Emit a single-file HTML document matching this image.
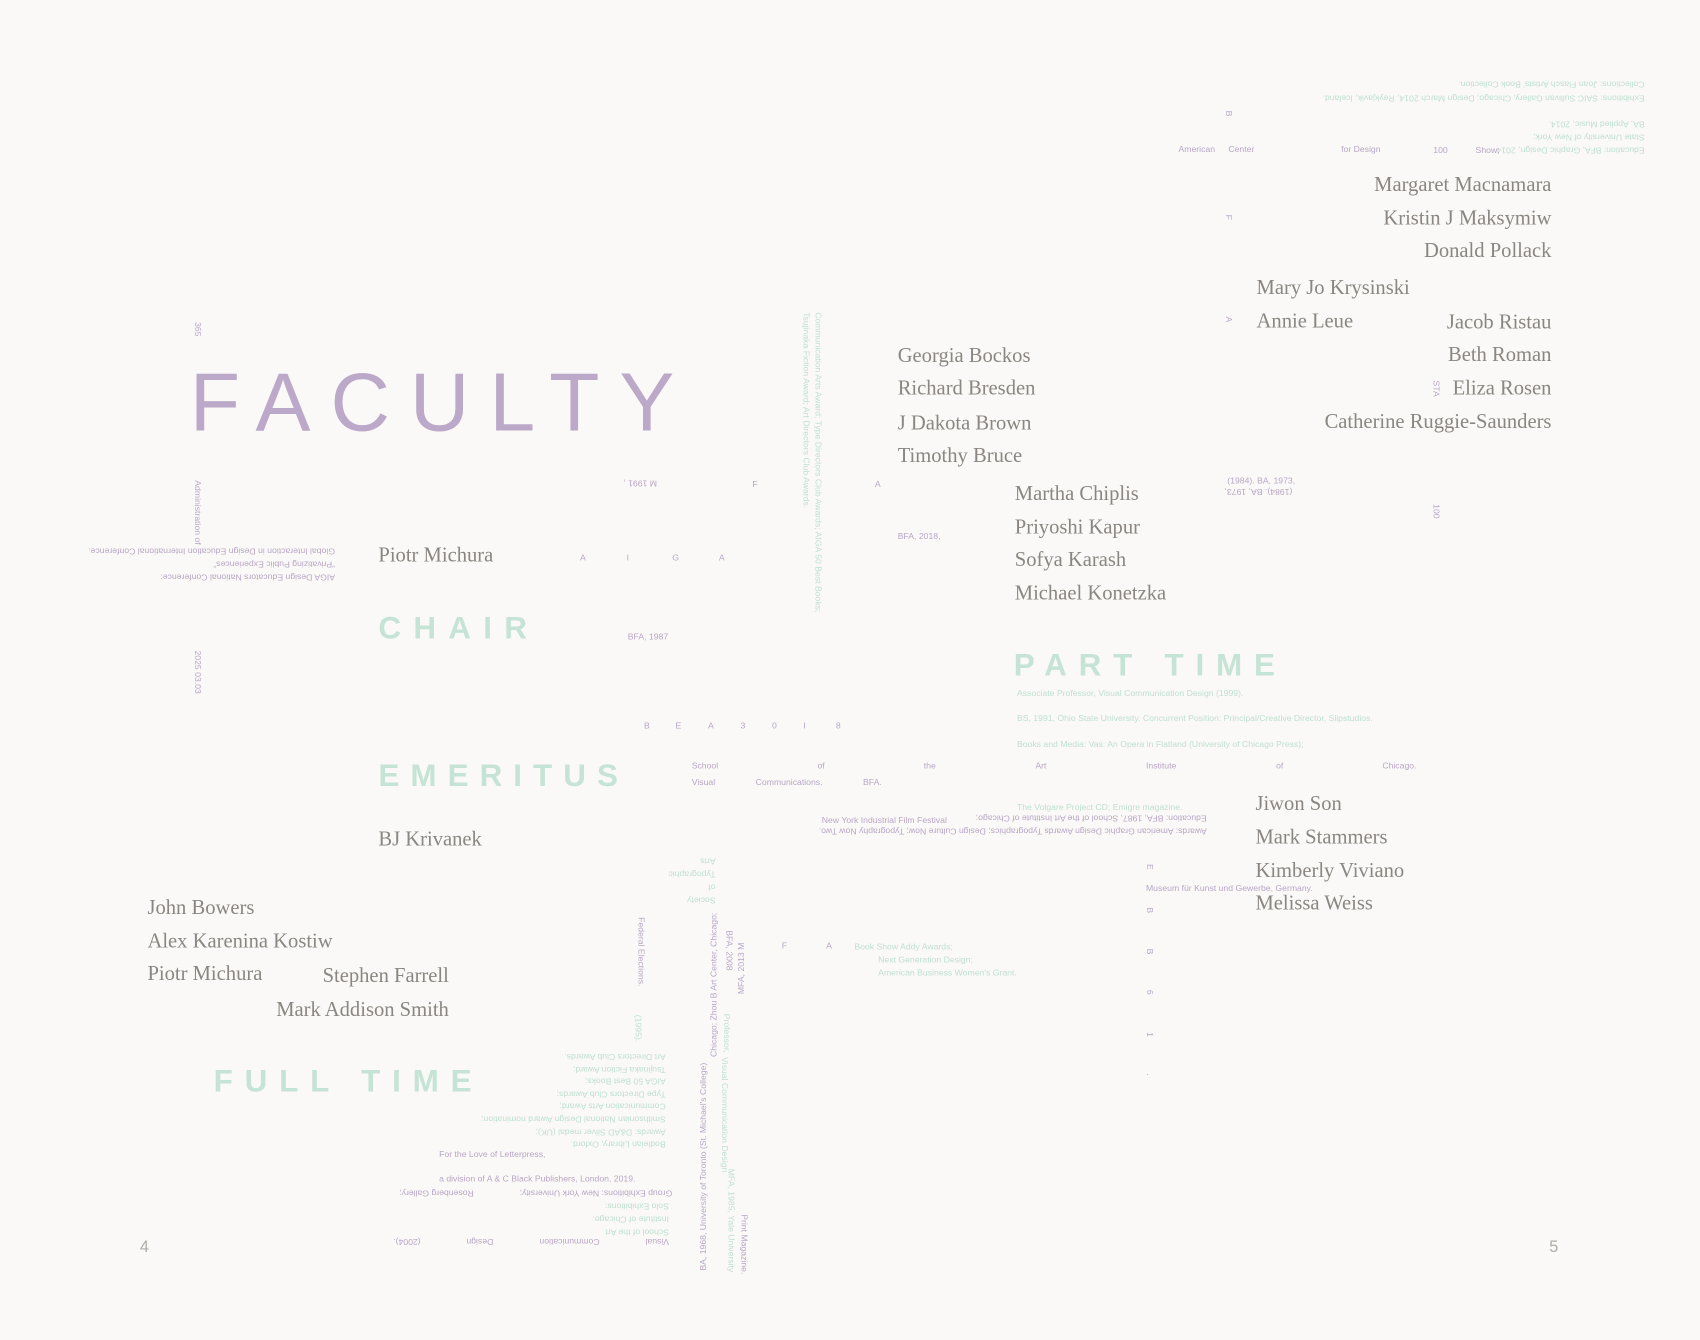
<!DOCTYPE html>
<html><head><meta charset="utf-8"><style>
html,body{margin:0;padding:0;background:#faf9f7;}
svg{display:block}
.n{font-family:"Liberation Serif",serif;font-size:19px;fill:#8b8681}
.h{font-family:"Liberation Sans",sans-serif;font-weight:bold;fill:#c6e4d6}
.p{font-family:"Liberation Sans",sans-serif;font-size:8px;fill:#b8a5c6}
.g{font-family:"Liberation Sans",sans-serif;font-size:8px;fill:#bfe0d0}
</style></head><body>
<svg width="1700" height="1340" viewBox="0 0 1568 1236" xmlns="http://www.w3.org/2000/svg">
<rect x="0" y="0" width="1568" height="1236" fill="#faf9f7"/>
<text x="175" y="397" font-family="Liberation Sans,sans-serif" font-size="76" fill="#bca9c9" textLength="447" lengthAdjust="spacing">FACULTY</text>

<text class="h" x="349" y="589" font-size="29" textLength="137" lengthAdjust="spacing">CHAIR</text>
<text class="h" x="349" y="725" font-size="29" textLength="221" lengthAdjust="spacing">EMERITUS</text>
<text class="h" x="197" y="1007" font-size="29" textLength="238" lengthAdjust="spacing">FULL TIME</text>
<text class="h" x="935" y="623" font-size="29" textLength="241" lengthAdjust="spacing">PART TIME</text>

<g text-anchor="end">
<text class="n" x="1431" y="176">Margaret Macnamara</text>
<text class="n" x="1431" y="207">Kristin J Maksymiw</text>
<text class="n" x="1431" y="237">Donald Pollack</text>
<text class="n" x="1431" y="303">Jacob Ristau</text>
<text class="n" x="1431" y="333">Beth Roman</text>
<text class="n" x="1431" y="364">Eliza Rosen</text>
<text class="n" x="1431" y="395">Catherine Ruggie-Saunders</text>
<text class="n" x="414" y="906">Stephen Farrell</text>
<text class="n" x="414" y="937">Mark Addison Smith</text>
</g>
<g>
<text class="n" x="1159" y="271">Mary Jo Krysinski</text>
<text class="n" x="1159" y="302">Annie Leue</text>
<text class="n" x="828" y="334">Georgia Bockos</text>
<text class="n" x="828" y="364">Richard Bresden</text>
<text class="n" x="828" y="396">J Dakota Brown</text>
<text class="n" x="828" y="426">Timothy Bruce</text>
<text class="n" x="936" y="461">Martha Chiplis</text>
<text class="n" x="936" y="492">Priyoshi Kapur</text>
<text class="n" x="936" y="522">Sofya Karash</text>
<text class="n" x="936" y="553">Michael Konetzka</text>
<text class="n" x="349" y="518">Piotr Michura</text>
<text class="n" x="349" y="780">BJ Krivanek</text>
<text class="n" x="136" y="843">John Bowers</text>
<text class="n" x="136" y="874">Alex Karenina Kostiw</text>
<text class="n" x="136" y="904">Piotr Michura</text>
<text class="n" x="1158" y="747">Jiwon Son</text>
<text class="n" x="1158" y="778">Mark Stammers</text>
<text class="n" x="1158" y="809">Kimberly Viviano</text>
<text class="n" x="1158" y="839">Melissa Weiss</text>
</g>

<text x="129" y="1155" font-family="Liberation Sans,sans-serif" font-size="15" fill="#b0aca8">4</text>
<text x="1429" y="1155" font-family="Liberation Sans,sans-serif" font-size="15" fill="#b0aca8">5</text>

<g>
<text class="g" transform="rotate(180 1517 75)" x="1517" y="75">Collections: Joan Flasch Artists' Book Collection.</text>
<text class="g" transform="rotate(180 1517 88)" x="1517" y="88">Exhibitions: SAIC Sullivan Gallery, Chicago; Design March 2014, Reykjavik, Iceland.</text>
<text class="g" transform="rotate(180 1517 112)" x="1517" y="112">BA, Applied Music, 2014.</text>
<text class="g" transform="rotate(180 1517 124)" x="1517" y="124">State University of New York;</text>
<text class="g" transform="rotate(180 1517 136)" x="1517" y="136">Education: BFA, Graphic Design, 2014</text>
<text class="p" x="1087" y="140">American</text>
<text class="p" x="1133" y="140">Center</text>
<text class="p" x="1237" y="140">for Design</text>
<text class="p" x="1322" y="141">100</text>
<text class="p" x="1361" y="141">Show;</text>
<text class="p" transform="rotate(90 1131 102)" x="1131" y="102">B</text>
<text class="p" transform="rotate(90 1131 198)" x="1131" y="198">F</text>
<text class="p" transform="rotate(90 1131 292)" x="1131" y="292">A</text>
<text class="p" transform="rotate(90 1322 351)" x="1322" y="351">STA</text>
<text class="p" transform="rotate(90 1322 465)" x="1322" y="465">100</text>
<text class="p" x="1132" y="446">(1984). BA, 1973,</text>
<text class="p" transform="rotate(180 1192 451)" x="1192" y="451">(1984). BA, 1973,</text>
</g>

<g>
<text class="p" transform="rotate(180 606 443)" x="606" y="443">M 1991 ,</text>
<text class="p" x="694" y="449">F</text>
<text class="p" x="807" y="449">A</text>
<text class="p" x="828" y="497">BFA, 2018,</text>
<text class="p" x="535" y="517">A</text>
<text class="p" x="578" y="517">I</text>
<text class="p" x="620" y="517">G</text>
<text class="p" x="663" y="517">A</text>
<text class="p" x="579" y="590">BFA, 1987</text>
<text class="g" transform="rotate(90 752 288)" x="752" y="288">Communication Arts Award; Type Directors Club Awards; AIGA 50 Best Books;</text>
<text class="g" transform="rotate(90 741 288)" x="741" y="288">Tsujinaka Fiction Award; Art Directors Club Awards.</text>
<text class="p" x="594" y="672">B</text>
<text class="p" x="623" y="672">E</text>
<text class="p" x="653" y="672">A</text>
<text class="p" x="683" y="672">3</text>
<text class="p" x="712" y="672">0</text>
<text class="p" x="741" y="672">I</text>
<text class="p" x="771" y="672">8</text>
<text class="p" x="638" y="709">School</text>
<text class="p" x="754" y="709">of</text>
<text class="p" x="852" y="709">the</text>
<text class="p" x="955" y="709">Art</text>
<text class="p" x="1057" y="709">Institute</text>
<text class="p" x="1177" y="709">of</text>
<text class="p" x="1275" y="709">Chicago.</text>
<text class="p" x="638" y="724">Visual</text>
<text class="p" x="697" y="724">Communications.</text>
<text class="p" x="796" y="724">BFA.</text>
<text class="g" x="938" y="642">Associate Professor, Visual Communication Design (1999).</text>
<text class="g" x="938" y="665">BS, 1991, Ohio State University. Concurrent Position: Principal/Creative Director, Slipstudios.</text>
<text class="g" x="938" y="689">Books and Media: Vas: An Opera in Flatland (University of Chicago Press);</text>
<text class="g" x="938" y="747">The Volgare Project CD; Emigre magazine.</text>
<text class="p" x="758" y="759">New York Industrial Film Festival</text>
<text class="p" transform="rotate(180 1113 752)" x="1113" y="752">Education: BFA, 1987, School of the Art Institute of Chicago;</text>
<text class="p" transform="rotate(180 1113 764)" x="1113" y="764">Awards: American Graphic Design Awards Typographics; Design Culture Now; Typography Now Two.</text>
<text class="p" x="1057" y="822">Museum für Kunst und Gewerbe,  Germany.</text>
<text class="p" transform="rotate(90 1058 797)" x="1058" y="797">E</text>
<text class="p" transform="rotate(90 1058 837)" x="1058" y="837">B</text>
<text class="p" transform="rotate(90 1058 875)" x="1058" y="875">B</text>
<text class="p" transform="rotate(90 1058 913)" x="1058" y="913">6</text>
<text class="p" transform="rotate(90 1058 952)" x="1058" y="952">1</text>
<text class="p" transform="rotate(90 1058 990)" x="1058" y="990">.</text>
</g>

<g>
<text class="p" transform="rotate(90 180 297)" x="180" y="297">365</text>
<text class="p" transform="rotate(90 180 443)" x="180" y="443">Administration of</text>
<text class="p" transform="rotate(90 180 600)" x="180" y="600">2025 03.03</text>
<text class="p" transform="rotate(180 309 506)" x="309" y="506">Global Interaction in Design Education International Conference.</text>
<text class="p" transform="rotate(180 309 518)" x="309" y="518">“Privatizing Public Experiences”</text>
<text class="p" transform="rotate(180 309 530)" x="309" y="530">AIGA Design Educators National Conference:</text>
</g>

<g>
<text class="g" transform="rotate(180 660 792)" x="660" y="792">Arts</text>
<text class="g" transform="rotate(180 660 804)" x="660" y="804">Typographic</text>
<text class="g" transform="rotate(180 660 816)" x="660" y="816">of</text>
<text class="g" transform="rotate(180 660 828)" x="660" y="828">Society</text>
<text class="p" transform="rotate(90 589 846)" x="589" y="846">Federal Elections.</text>
<text class="g" transform="rotate(90 586 936)" x="586" y="936">(1995).</text>
<text class="p" transform="rotate(-90 651 1172)" x="651" y="1172">BA, 1968, University of Toronto (St. Michael's College)</text>
<text class="p" transform="rotate(-90 661 975)" x="661" y="975">Chicago; Zhou B Art Center, Chicago;</text>
<text class="g" transform="rotate(90 666 975)" x="666" y="975">Visual Communication Design</text>
<text class="p" transform="rotate(90 670 858)" x="670" y="858">BFA, 2008</text>
<text class="p" transform="rotate(-90 686 917)" x="686" y="917">MFA, 2013  M</text>
<text class="g" transform="rotate(90 668 935)" x="668" y="935">Professor,</text>
<text class="g" transform="rotate(90 672 1078)" x="672" y="1078">MFA, 1985, Yale University</text>
<text class="p" transform="rotate(90 684 1120)" x="684" y="1120">Print Magazine.</text>
<text class="p" x="721" y="875">F</text>
<text class="p" x="762" y="875">A</text>
<text class="g" x="788" y="876">Book Show Addy Awards;</text>
<text class="g" x="810" y="888">Next Generation Design;</text>
<text class="g" x="810" y="900">American Business Women's Grant.</text>
<text class="g" transform="rotate(180 614 972)" x="614" y="972">Art Directors Club Awards.</text>
<text class="g" transform="rotate(180 614 984)" x="614" y="984">Tsujinaka Fiction Award;</text>
<text class="g" transform="rotate(180 614 995)" x="614" y="995">AIGA 50 Best Books;</text>
<text class="g" transform="rotate(180 614 1007)" x="614" y="1007">Type Directors Club Awards;</text>
<text class="g" transform="rotate(180 614 1018)" x="614" y="1018">Communication Arts Award;</text>
<text class="g" transform="rotate(180 614 1030)" x="614" y="1030">Smithsonian National Design Award nomination;</text>
<text class="g" transform="rotate(180 614 1042)" x="614" y="1042">Awards: D&amp;AD Silver medal (UK);</text>
<text class="g" transform="rotate(180 614 1053)" x="614" y="1053">Bodleian Library, Oxford.</text>
<text class="p" x="405" y="1067">For the Love of Letterpress,</text>
<text class="p" x="405" y="1090">a division of A &amp; C Black Publishers, London, 2019.</text>
<text class="p" transform="rotate(180 620 1098)" x="620" y="1098">Group Exhibitions: New York University;</text>
<text class="p" transform="rotate(180 437 1098)" x="437" y="1098">Rosenberg Gallery;</text>
<text class="g" transform="rotate(180 617 1110)" x="617" y="1110">Solo Exhibitions:</text>
<text class="g" transform="rotate(180 617 1122)" x="617" y="1122">Institute of Chicago.</text>
<text class="g" transform="rotate(180 617 1134)" x="617" y="1134">School of the Art</text>
<text class="p" transform="rotate(180 617 1143)" x="617" y="1143">Visual</text>
<text class="p" transform="rotate(180 553 1143)" x="553" y="1143">Communication</text>
<text class="p" transform="rotate(180 455 1143)" x="455" y="1143">Design</text>
<text class="p" transform="rotate(180 388 1143)" x="388" y="1143">(2004).</text>
</g>
</svg>
</body></html>
